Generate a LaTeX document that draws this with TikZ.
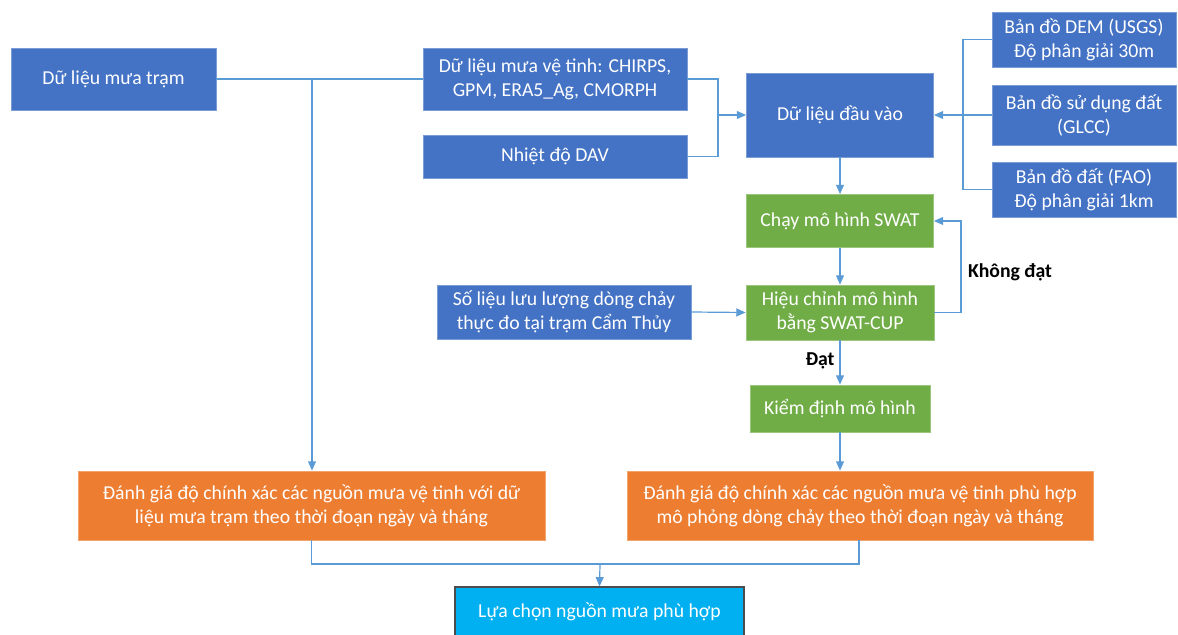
\documentclass[tikz,border=0pt]{standalone}
\usepackage{fontspec}
\setmainfont{Carlito}
\usetikzlibrary{arrows.meta}
\definecolor{boxblue}{HTML}{4472C4}
\definecolor{boxgreen}{HTML}{70AD47}
\definecolor{boxorange}{HTML}{ED7D31}
\definecolor{boxcyan}{HTML}{00B0F0}
\definecolor{linkblue}{HTML}{5B9BD5}
\begin{document}
\begin{tikzpicture}[x=0.75pt,y=-0.75pt,
    box/.style={rectangle,align=center,text=white,inner sep=0pt,line width=0.6pt,
      font=\fontsize{14.8}{18}\selectfont},
    bluebox/.style={box,fill=boxblue,draw=boxblue!70!white},
    greenbox/.style={box,fill=boxgreen,draw=boxgreen!70!white},
    orangebox/.style={box,fill=boxorange,draw=boxorange!70!white},
    pickbox/.style={box,fill=boxcyan,draw=black!70,line width=0.9pt,text=white},
    link/.style={draw=linkblue,line width=0.9pt},
    arr/.style={link,-{Triangle[length=7pt,width=6pt]}},
    tag/.style={font=\fontsize{14.8}{18}\selectfont\bfseries}]
    \useasboundingbox (0,0) rectangle (1178,635);

    \node[bluebox,minimum width=153.75pt,minimum height=46.5pt] (tram) at (113.5,79) {Dữ liệu mưa trạm};
    \node[bluebox,minimum width=198pt,minimum height=46.5pt] (sat) at (555,79) {Dữ liệu mưa vệ tinh: CHIRPS,\\GPM, ERA5\_Ag, CMORPH};
    \node[bluebox,minimum width=198pt,minimum height=32.25pt] (dav) at (555,156.5) {Nhiệt độ DAV};
    \node[bluebox,minimum width=140.25pt,minimum height=63pt] (input) at (840,115) {Dữ liệu đầu vào};
    \node[bluebox,minimum width=138pt,minimum height=41.25pt] (dem) at (1084,39.5) {Bản đồ DEM (USGS)\\Độ phân giải 30m};
    \node[bluebox,minimum width=138pt,minimum height=45pt] (glcc) at (1084,115) {Bản đồ sử dụng đất\\(GLCC)};
    \node[bluebox,minimum width=138pt,minimum height=41.25pt] (fao) at (1084,189.5) {Bản đồ đất (FAO)\\Độ phân giải 1km};
    \node[greenbox,minimum width=140.25pt,minimum height=39.75pt] (swat) at (840,221) {Chạy mô hình SWAT};
    \node[greenbox,minimum width=141pt,minimum height=41.25pt] (calib) at (840,312.5) {Hiệu chỉnh mô hình\\bằng SWAT-CUP};
    \node[bluebox,minimum width=190.5pt,minimum height=40.5pt] (flow) at (564,312) {Số liệu lưu lượng dòng chảy\\thực đo tại trạm Cẩm Thủy};
    \node[greenbox,minimum width=135pt,minimum height=35.25pt] (kiem) at (840,408.5) {Kiểm định mô hình};
    \node[orangebox,minimum width=350.25pt,minimum height=51.75pt] (evalL) at (311.5,505.5) {Đánh giá độ chính xác các nguồn mưa vệ tinh với dữ\\liệu mưa trạm theo thời đoạn ngày và tháng};
    \node[orangebox,minimum width=349.5pt,minimum height=51.75pt] (evalR) at (860,505.5) {Đánh giá độ chính xác các nguồn mưa vệ tinh phù hợp\\mô phỏng dòng chảy theo thời đoạn ngày và tháng};
    \node[pickbox,minimum width=216.75pt,minimum height=37.5pt] (pick) at (599.5,612) {Lựa chọn nguồn mưa phù hợp};

    \coordinate (split) at (312,79);
    \coordinate (joinL) at (718,115);
    \coordinate (joinR) at (963,115);
    \coordinate (loop) at (961,312.5);
    \coordinate (merge) at (600,564);

    \draw[link] (tram.east) -- (sat.west);
    \draw[arr] (split) -- (split |- evalL.north);
    \draw[link] (sat.east) -| (joinL) |- (dav.east);
    \draw[arr] (joinL) -- (input.west);
    \draw[link] (dem.west) -| (joinR) |- (fao.west);
    \draw[arr] (glcc.west) -- (input.east);
    \draw[arr] (input.south) -- (swat.north);
    \draw[arr] (swat.south) -- (calib.north);
    \draw[arr] (flow.east) -- (calib.west);
    \draw[arr] (calib.east) -- (loop) |- (swat.east);
    \node[tag] (fail) at (1010,272) {Không đạt};
    \draw[arr] (calib.south) -- (kiem.north);
    \node[tag] (pass) at (820,361) {Đạt};
    \draw[arr] (kiem.south) -- (kiem.south |- evalR.north);
    \draw[link] (evalL.south) |- (merge) -| (evalR.south -| 859,0);
    \draw[arr] (merge) -- (pick.north);
\end{tikzpicture}
\end{document}
